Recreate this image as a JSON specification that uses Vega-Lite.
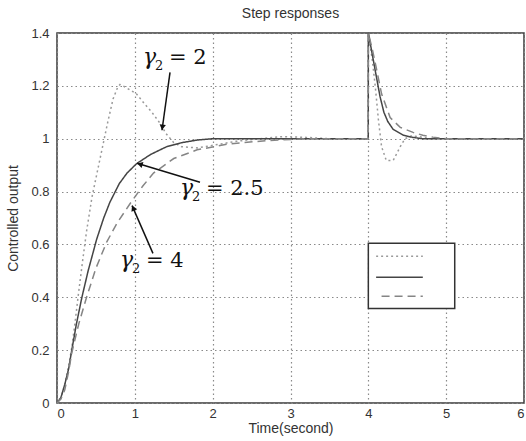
{
  "$schema": "https://vega.github.io/schema/vega-lite/v6.json",
  "width": 467,
  "height": 370,
  "autosize": {"type": "none"},
  "padding": {"left": 57, "top": 33, "right": 2, "bottom": 38},
  "background": "white",
  "title": {"text": "Step responses", "font": "Liberation Sans", "fontSize": 14, "fontWeight": "normal", "color": "#333333", "anchor": "middle", "offset": 6},
  "config": {
    "view": {"stroke": "#3a3a3a", "strokeWidth": 1.5},
    "axis": {
      "grid": true, "gridColor": "#8a8a8a", "gridDash": [1.5, 3], "gridWidth": 1.2,
      "domain": false, "ticks": false, "tickSize": 0,
      "labelFont": "Liberation Sans", "labelFontSize": 13, "labelColor": "#333333",
      "titleFont": "Liberation Sans", "titleFontSize": 14, "titleFontWeight": "normal", "titleColor": "#333333"
    }
  },
  "datasets": {
    "curves": [
      {"t": 0, "v": 0, "s": "2"}, {"t": 0.05, "v": 0.02, "s": "2"}, {"t": 0.1, "v": 0.07, "s": "2"}, {"t": 0.15, "v": 0.14, "s": "2"},
      {"t": 0.19, "v": 0.21, "s": "2"}, {"t": 0.23, "v": 0.3, "s": "2"}, {"t": 0.27, "v": 0.4, "s": "2"}, {"t": 0.33, "v": 0.54, "s": "2"},
      {"t": 0.38, "v": 0.65, "s": "2"}, {"t": 0.45, "v": 0.78, "s": "2"}, {"t": 0.55, "v": 0.92, "s": "2"}, {"t": 0.65, "v": 1.06, "s": "2"},
      {"t": 0.72, "v": 1.15, "s": "2"}, {"t": 0.78, "v": 1.195, "s": "2"}, {"t": 0.81, "v": 1.205, "s": "2"}, {"t": 0.88, "v": 1.195, "s": "2"},
      {"t": 1.02, "v": 1.17, "s": "2"}, {"t": 1.13, "v": 1.13, "s": "2"}, {"t": 1.22, "v": 1.1, "s": "2"}, {"t": 1.32, "v": 1.06, "s": "2"},
      {"t": 1.4, "v": 1.02, "s": "2"}, {"t": 1.5, "v": 0.985, "s": "2"}, {"t": 1.6, "v": 0.97, "s": "2"}, {"t": 1.8, "v": 0.965, "s": "2"},
      {"t": 2.0, "v": 0.975, "s": "2"}, {"t": 2.3, "v": 0.99, "s": "2"}, {"t": 2.6, "v": 1.0, "s": "2"}, {"t": 2.9, "v": 1.008, "s": "2"},
      {"t": 3.2, "v": 1.005, "s": "2"}, {"t": 3.5, "v": 1.0, "s": "2"}, {"t": 3.999, "v": 1.0, "s": "2"}, {"t": 4.0, "v": 1.4, "s": "2"},
      {"t": 4.05, "v": 1.3, "s": "2"}, {"t": 4.09, "v": 1.195, "s": "2"}, {"t": 4.13, "v": 1.07, "s": "2"}, {"t": 4.17, "v": 0.97, "s": "2"},
      {"t": 4.23, "v": 0.918, "s": "2"}, {"t": 4.32, "v": 0.918, "s": "2"}, {"t": 4.41, "v": 0.97, "s": "2"}, {"t": 4.47, "v": 1.0, "s": "2"},
      {"t": 4.55, "v": 1.01, "s": "2"}, {"t": 4.65, "v": 1.008, "s": "2"}, {"t": 4.8, "v": 1.0, "s": "2"}, {"t": 6, "v": 1.0, "s": "2"},

      {"t": 0, "v": 0, "s": "2.5"}, {"t": 0.05, "v": 0.02, "s": "2.5"}, {"t": 0.1, "v": 0.07, "s": "2.5"}, {"t": 0.15, "v": 0.13, "s": "2.5"},
      {"t": 0.19, "v": 0.2, "s": "2.5"}, {"t": 0.25, "v": 0.3, "s": "2.5"}, {"t": 0.32, "v": 0.4, "s": "2.5"}, {"t": 0.4, "v": 0.5, "s": "2.5"},
      {"t": 0.51, "v": 0.62, "s": "2.5"}, {"t": 0.6, "v": 0.7, "s": "2.5"}, {"t": 0.68, "v": 0.76, "s": "2.5"}, {"t": 0.8, "v": 0.83, "s": "2.5"},
      {"t": 0.9, "v": 0.87, "s": "2.5"}, {"t": 1.02, "v": 0.905, "s": "2.5"}, {"t": 1.2, "v": 0.94, "s": "2.5"}, {"t": 1.41, "v": 0.97, "s": "2.5"},
      {"t": 1.6, "v": 0.985, "s": "2.5"}, {"t": 1.8, "v": 0.995, "s": "2.5"}, {"t": 2.0, "v": 1.0, "s": "2.5"}, {"t": 3.999, "v": 1.0, "s": "2.5"},
      {"t": 4.0, "v": 1.4, "s": "2.5"}, {"t": 4.05, "v": 1.32, "s": "2.5"}, {"t": 4.1, "v": 1.24, "s": "2.5"}, {"t": 4.15, "v": 1.16, "s": "2.5"},
      {"t": 4.2, "v": 1.1, "s": "2.5"}, {"t": 4.25, "v": 1.065, "s": "2.5"}, {"t": 4.32, "v": 1.035, "s": "2.5"}, {"t": 4.45, "v": 1.013, "s": "2.5"},
      {"t": 4.57, "v": 1.005, "s": "2.5"}, {"t": 4.7, "v": 1.0, "s": "2.5"}, {"t": 6, "v": 1.0, "s": "2.5"},

      {"t": 0, "v": 0, "s": "4"}, {"t": 0.05, "v": 0.015, "s": "4"}, {"t": 0.1, "v": 0.05, "s": "4"}, {"t": 0.15, "v": 0.12, "s": "4"},
      {"t": 0.19, "v": 0.19, "s": "4"}, {"t": 0.28, "v": 0.3, "s": "4"}, {"t": 0.38, "v": 0.4, "s": "4"}, {"t": 0.5, "v": 0.51, "s": "4"},
      {"t": 0.64, "v": 0.61, "s": "4"}, {"t": 0.77, "v": 0.68, "s": "4"}, {"t": 0.94, "v": 0.755, "s": "4"}, {"t": 1.1, "v": 0.82, "s": "4"},
      {"t": 1.24, "v": 0.87, "s": "4"}, {"t": 1.5, "v": 0.925, "s": "4"}, {"t": 1.8, "v": 0.958, "s": "4"}, {"t": 2.2, "v": 0.98, "s": "4"},
      {"t": 2.7, "v": 0.993, "s": "4"}, {"t": 3.2, "v": 1.0, "s": "4"}, {"t": 3.999, "v": 1.0, "s": "4"}, {"t": 4.0, "v": 1.4, "s": "4"},
      {"t": 4.05, "v": 1.34, "s": "4"}, {"t": 4.09, "v": 1.285, "s": "4"}, {"t": 4.17, "v": 1.17, "s": "4"}, {"t": 4.28, "v": 1.08, "s": "4"},
      {"t": 4.41, "v": 1.043, "s": "4"}, {"t": 4.575, "v": 1.024, "s": "4"}, {"t": 4.7, "v": 1.013, "s": "4"}, {"t": 4.83, "v": 1.006, "s": "4"},
      {"t": 5.0, "v": 1.0, "s": "4"}, {"t": 6, "v": 1.0, "s": "4"}
    ],
    "box": [{"x": 4.0, "x2": 5.11, "y": 0.604, "y2": 0.358}],
    "legendLines": [
      {"t": 4.1, "t2": 4.7, "v": 0.555, "s": "2"},
      {"t": 4.1, "t2": 4.7, "v": 0.476, "s": "2.5"},
      {"t": 4.17, "t2": 4.7, "v": 0.404, "s": "4"}
    ],
    "labels": [
      {"x": 1.105, "y": 1.281, "rest": "= 2"},
      {"x": 1.58, "y": 0.786, "rest": "= 2.5"},
      {"x": 0.81, "y": 0.513, "rest": "= 4"}
    ],
    "arrows": [
      {"x": 1.452, "y": 1.251, "x2": 1.349, "y2": 1.032},
      {"x": 1.837, "y": 0.835, "x2": 1.028, "y2": 0.907},
      {"x": 1.233, "y": 0.566, "x2": 0.964, "y2": 0.747}
    ],
    "head1": [{"x": 1.354, "y": 1.043}],
    "head2": [{"x": 1.065, "y": 0.9035}],
    "head3": [{"x": 0.979, "y": 0.738}]
  },
  "layer": [
    {
      "data": {"name": "curves"},
      "mark": {"type": "line", "strokeWidth": 1.5},
      "encoding": {
        "x": {"field": "t", "type": "quantitative", "scale": {"domain": [0, 6], "nice": false},
              "axis": {"values": [0, 1, 2, 3, 4, 5, 6], "format": "~g", "title": "Time(second)", "labelPadding": 4, "titlePadding": 1}},
        "y": {"field": "v", "type": "quantitative", "scale": {"domain": [0, 1.4], "nice": false},
              "axis": {"values": [0, 0.2, 0.4, 0.6, 0.8, 1, 1.2, 1.4], "format": "~g", "title": "Controlled output", "labelPadding": 8, "titlePadding": 10}},
        "color": {"field": "s", "type": "nominal", "scale": {"domain": ["2", "2.5", "4"], "range": ["#9a9a9a", "#454545", "#858585"]}, "legend": null},
        "strokeDash": {"field": "s", "type": "nominal", "scale": {"domain": ["2", "2.5", "4"], "range": [[2, 3], [1, 0], [8, 5]]}, "legend": null}
      }
    },
    {
      "data": {"name": "box"},
      "mark": {"type": "rect", "fill": "white", "stroke": "#333333", "strokeWidth": 1.5},
      "encoding": {
        "x": {"field": "x", "type": "quantitative"}, "x2": {"field": "x2"},
        "y": {"field": "y", "type": "quantitative"}, "y2": {"field": "y2"}
      }
    },
    {
      "data": {"name": "legendLines"},
      "mark": {"type": "rule", "strokeWidth": 1.5},
      "encoding": {
        "x": {"field": "t", "type": "quantitative"}, "x2": {"field": "t2"},
        "y": {"field": "v", "type": "quantitative"},
        "color": {"field": "s", "type": "nominal", "legend": null},
        "strokeDash": {"field": "s", "type": "nominal", "legend": null}
      }
    },
    {
      "data": {"name": "labels"},
      "mark": {"type": "text", "font": "DejaVu Serif", "fontStyle": "italic", "fontSize": 22, "align": "left", "baseline": "alphabetic", "color": "#111111"},
      "encoding": {"x": {"field": "x", "type": "quantitative"}, "y": {"field": "y", "type": "quantitative"}, "text": {"value": "γ"}}
    },
    {
      "data": {"name": "labels"},
      "mark": {"type": "text", "font": "DejaVu Serif", "fontSize": 13, "align": "left", "baseline": "alphabetic", "dx": 12, "dy": 6, "color": "#111111"},
      "encoding": {"x": {"field": "x", "type": "quantitative"}, "y": {"field": "y", "type": "quantitative"}, "text": {"value": "2"}}
    },
    {
      "data": {"name": "labels"},
      "mark": {"type": "text", "font": "DejaVu Serif", "fontSize": 21, "align": "left", "baseline": "alphabetic", "dx": 26, "color": "#111111"},
      "encoding": {"x": {"field": "x", "type": "quantitative"}, "y": {"field": "y", "type": "quantitative"}, "text": {"field": "rest"}}
    },
    {
      "data": {"name": "arrows"},
      "mark": {"type": "rule", "strokeWidth": 1.5, "color": "#111111"},
      "encoding": {
        "x": {"field": "x", "type": "quantitative"}, "x2": {"field": "x2"},
        "y": {"field": "y", "type": "quantitative"}, "y2": {"field": "y2"}
      }
    },
    {
      "data": {"name": "head1"},
      "mark": {"type": "point", "shape": "triangle-up", "filled": true, "size": 40, "angle": 188, "color": "#111111", "opacity": 1},
      "encoding": {"x": {"field": "x", "type": "quantitative"}, "y": {"field": "y", "type": "quantitative"}}
    },
    {
      "data": {"name": "head2"},
      "mark": {"type": "point", "shape": "triangle-up", "filled": true, "size": 40, "angle": 287, "color": "#111111", "opacity": 1},
      "encoding": {"x": {"field": "x", "type": "quantitative"}, "y": {"field": "y", "type": "quantitative"}}
    },
    {
      "data": {"name": "head3"},
      "mark": {"type": "point", "shape": "triangle-up", "filled": true, "size": 40, "angle": 336, "color": "#111111", "opacity": 1},
      "encoding": {"x": {"field": "x", "type": "quantitative"}, "y": {"field": "y", "type": "quantitative"}}
    }
  ]
}
